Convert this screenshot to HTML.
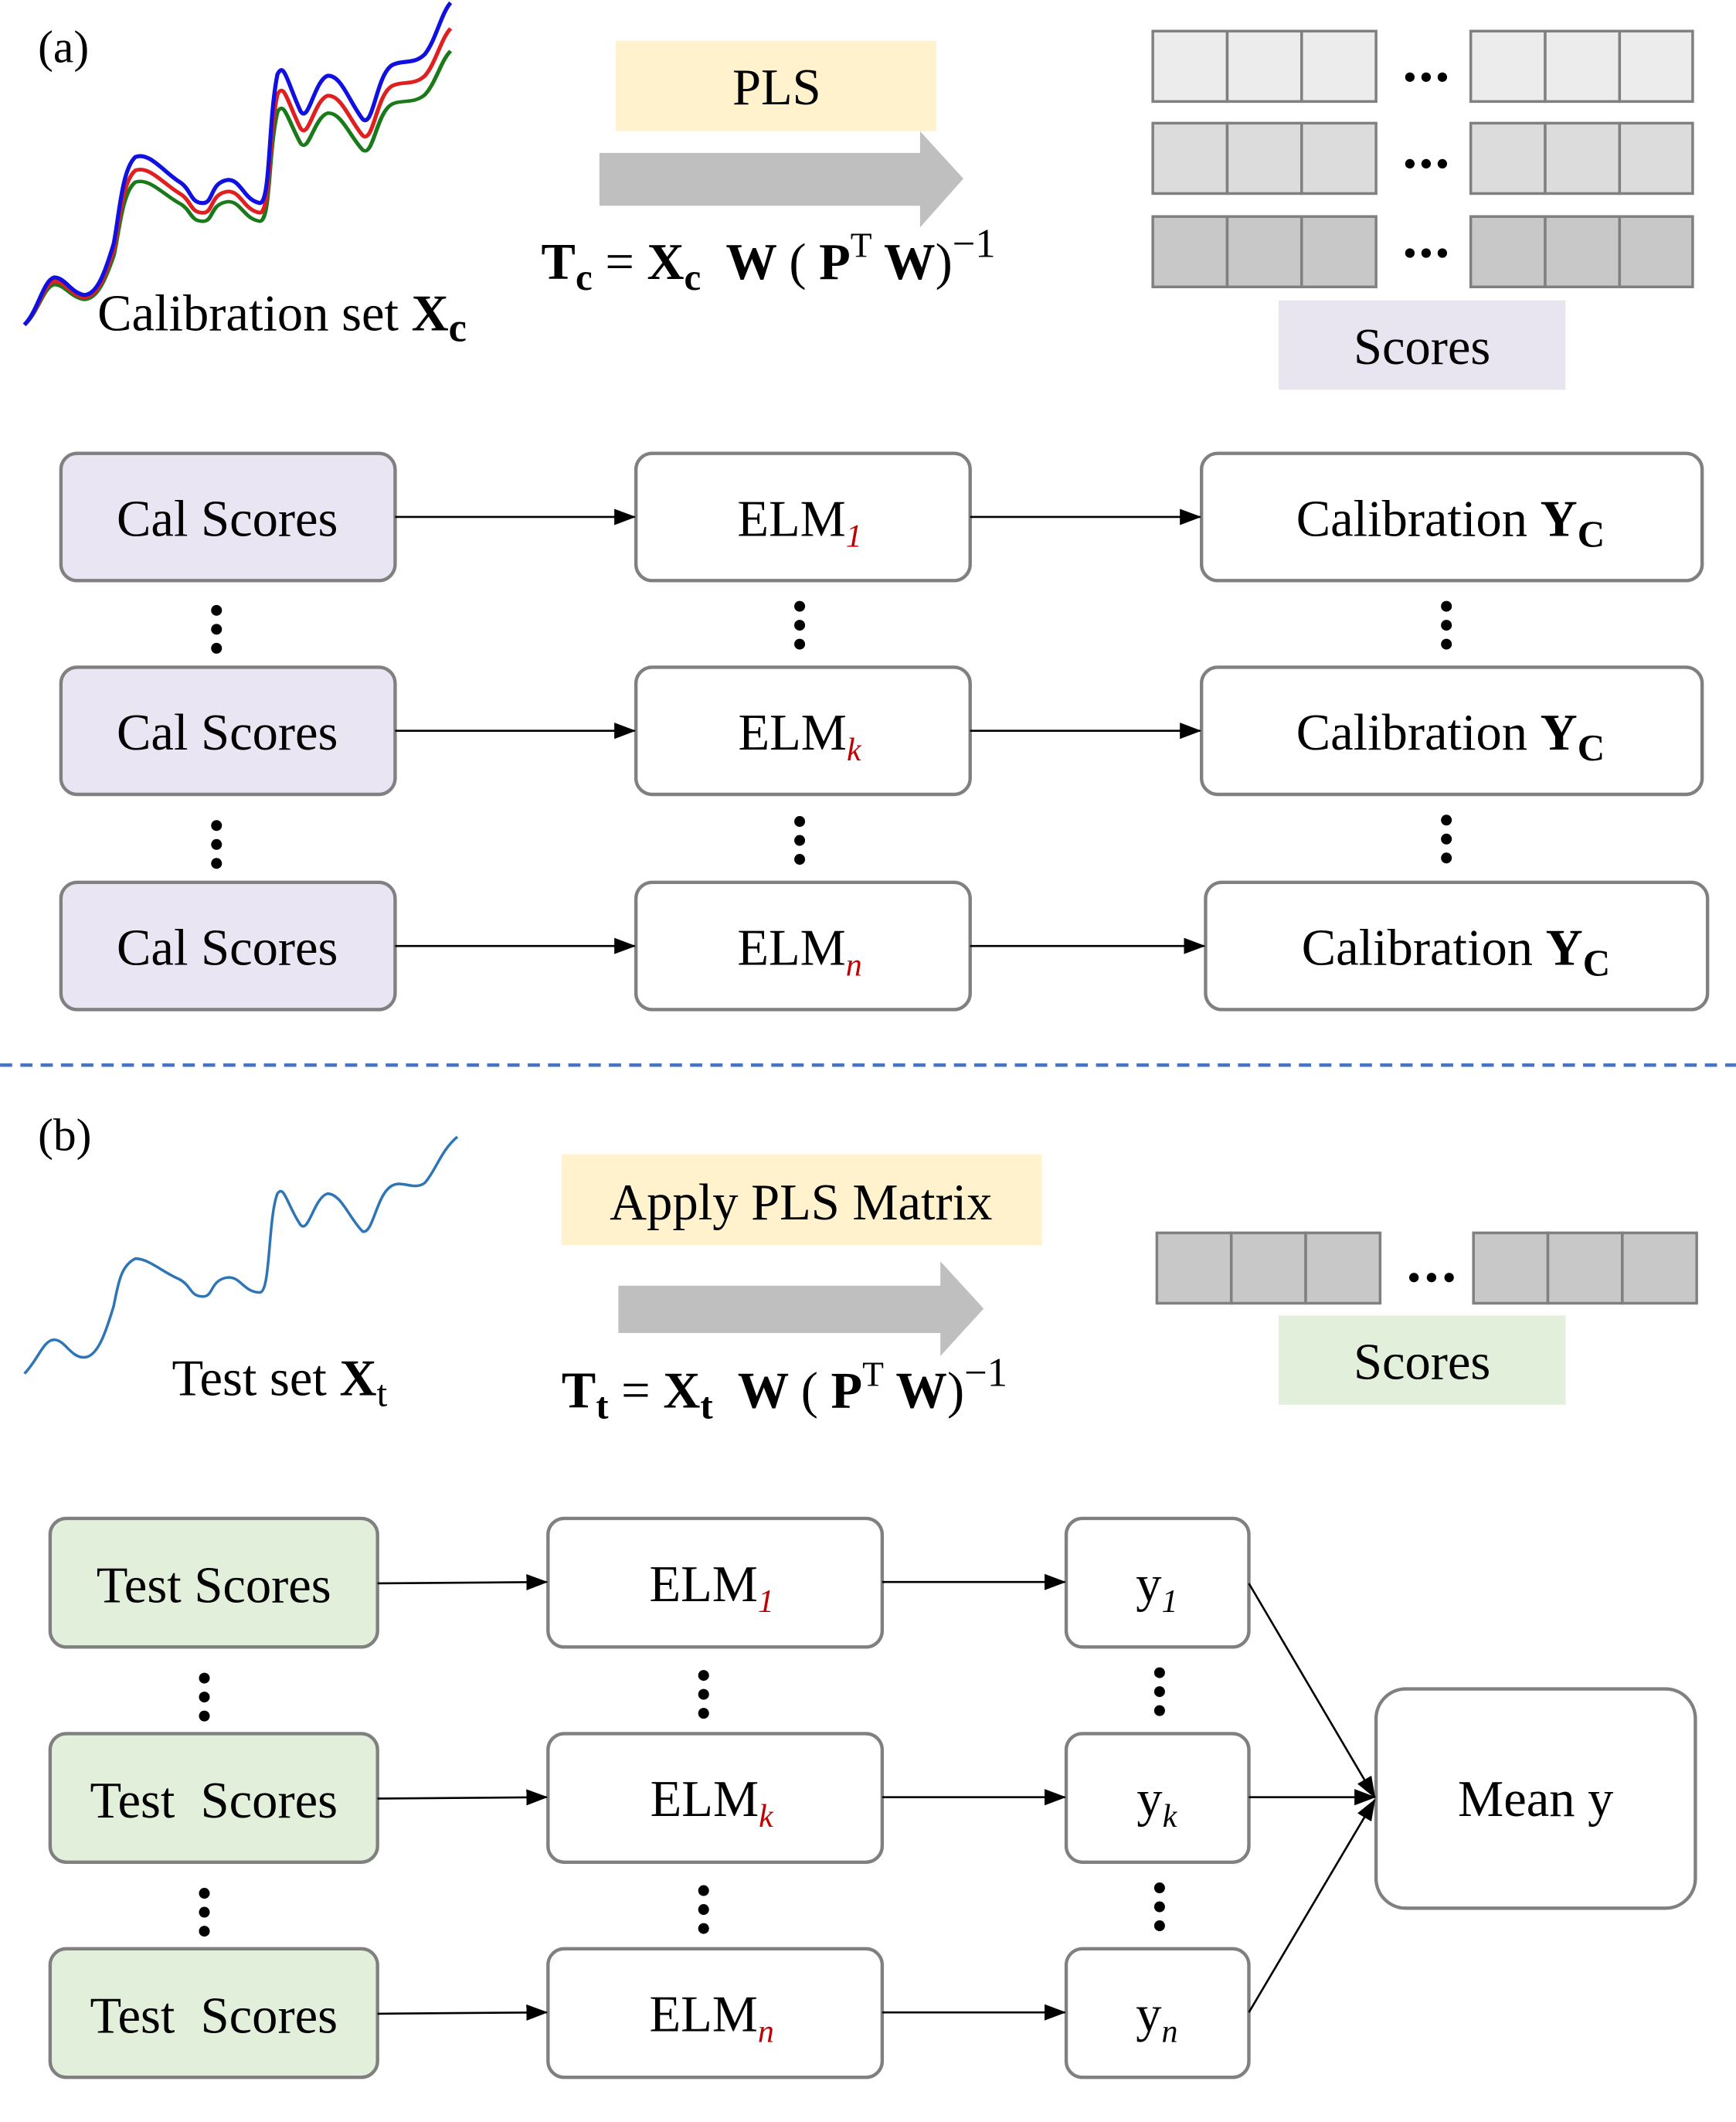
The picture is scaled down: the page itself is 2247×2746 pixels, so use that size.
<!DOCTYPE html>
<html><head><meta charset="utf-8"><style>
html,body{margin:0;padding:0;background:#fff}
svg{display:block}
text{font-family:"Liberation Serif",serif;fill:#000}
</style></head><body>
<svg width="2247" height="2746" viewBox="0 0 1283 1568" xmlns="http://www.w3.org/2000/svg">
<defs>
<marker id="ah" markerWidth="16" markerHeight="14" refX="15" refY="6" orient="auto" markerUnits="userSpaceOnUse" viewBox="0 0 16 12">
<path d="M0,0 L16,6 L0,12 z" fill="#000"/></marker>
<path id="spec" d="M18,240 C28,230 32,207 40,205 C48,205 52,216 62,218 C72,218 78,200 84,180 C88,160 90,125 100,116 C110,112 120,126 132,134 C142,140 140,150 150,150 C158,150 155,135 168,133 C178,132 180,148 192,150 C200,150 198,90 205,55 C210,45 212,60 222,82 C228,92 232,60 242,56 C252,55 258,75 268,88 C276,95 278,55 290,48 C298,44 306,48 314,40 C322,30 326,10 333,2" fill="none"/>
</defs>

<text x="28" y="46" font-size="34">(a)</text>
<g stroke-width="3">
<use href="#spec" stroke="#1a7a1a" transform="translate(0,240) scale(1,0.85) translate(0,-240)"/>
<use href="#spec" stroke="#e02020" transform="translate(0,240) scale(1,0.92) translate(0,-240)"/>
<use href="#spec" stroke="#1010e0"/>
</g>
<text x="72" y="244" font-size="38">Calibration set <tspan font-weight="bold">X</tspan><tspan font-size="30" dy="8" font-weight="bold">c</tspan></text>

<rect x="455" y="30" width="237" height="67" fill="#fff2cc"/>
<text x="574" y="77" font-size="38" text-anchor="middle">PLS</text>
<path d="M443,113 H680 V97 L712,132 L680,168 V152 H443 z" fill="#bfbfbf"/>
<text x="400" y="206" font-size="38" font-weight="bold" xml:space="preserve">T<tspan font-size="28" dy="8">c</tspan><tspan dy="-8" font-weight="normal"> = </tspan>X<tspan font-size="28" dy="8">c</tspan><tspan dy="-8">  W </tspan><tspan font-weight="normal">( </tspan>P<tspan font-size="26" dy="-16" font-weight="normal">T</tspan><tspan dy="16"> W</tspan><tspan font-weight="normal">)</tspan><tspan font-size="30" dy="-16" font-weight="normal">−1</tspan></text>

<g stroke="#808080" stroke-width="2">
<g fill="#ececec"><rect x="852" y="23" width="55" height="52"/><rect x="907" y="23" width="55" height="52"/><rect x="962" y="23" width="55" height="52"/><rect x="1087" y="23" width="55" height="52"/><rect x="1142" y="23" width="55" height="52"/><rect x="1197" y="23" width="54" height="52"/></g>
<g fill="#dcdcdc"><rect x="852" y="91" width="55" height="52"/><rect x="907" y="91" width="55" height="52"/><rect x="962" y="91" width="55" height="52"/><rect x="1087" y="91" width="55" height="52"/><rect x="1142" y="91" width="55" height="52"/><rect x="1197" y="91" width="54" height="52"/></g>
<g fill="#c8c8c8"><rect x="852" y="160" width="55" height="52"/><rect x="907" y="160" width="55" height="52"/><rect x="962" y="160" width="55" height="52"/><rect x="1087" y="160" width="55" height="52"/><rect x="1142" y="160" width="55" height="52"/><rect x="1197" y="160" width="54" height="52"/></g>
</g>
<g fill="#000"><circle cx="1042" cy="57" r="3.5"/><circle cx="1054" cy="57" r="3.5"/><circle cx="1066" cy="57" r="3.5"/>
<circle cx="1042" cy="121" r="3.5"/><circle cx="1054" cy="121" r="3.5"/><circle cx="1066" cy="121" r="3.5"/>
<circle cx="1042" cy="187" r="3.5"/><circle cx="1054" cy="187" r="3.5"/><circle cx="1066" cy="187" r="3.5"/></g>
<rect x="945" y="222" width="212" height="66" fill="#e8e4f0"/>
<text x="1051" y="269" font-size="38" text-anchor="middle">Scores</text>

<g stroke="#808080" stroke-width="2.5">
<rect x="45" y="335" width="247" height="94" rx="12" fill="#e9e5f3"/>
<rect x="45" y="493" width="247" height="94" rx="12" fill="#e9e5f3"/>
<rect x="45" y="652" width="247" height="94" rx="12" fill="#e9e5f3"/>
<rect x="470" y="335" width="247" height="94" rx="12" fill="#fff"/>
<rect x="470" y="493" width="247" height="94" rx="12" fill="#fff"/>
<rect x="470" y="652" width="247" height="94" rx="12" fill="#fff"/>
<rect x="888" y="335" width="370" height="94" rx="12" fill="#fff"/>
<rect x="888" y="493" width="370" height="94" rx="12" fill="#fff"/>
<rect x="891" y="652" width="371" height="94" rx="12" fill="#fff"/>
</g>
<g stroke="#000" stroke-width="1.5" marker-end="url(#ah)">
<line x1="292" y1="382" x2="469" y2="382"/><line x1="292" y1="540" x2="469" y2="540"/><line x1="292" y1="699" x2="469" y2="699"/>
<line x1="717" y1="382" x2="887" y2="382"/><line x1="717" y1="540" x2="887" y2="540"/><line x1="717" y1="699" x2="890" y2="699"/>
</g>
<g font-size="38" text-anchor="middle">
<text x="168" y="396">Cal Scores</text><text x="168" y="554">Cal Scores</text><text x="168" y="713">Cal Scores</text>
<text x="591" y="396">ELM<tspan font-size="24" fill="#c00000" font-style="italic" dy="8">1</tspan></text>
<text x="591" y="554">ELM<tspan font-size="24" fill="#c00000" font-style="italic" dy="8">k</tspan></text>
<text x="591" y="713">ELM<tspan font-size="24" fill="#c00000" font-style="italic" dy="8">n</tspan></text>
<text x="1072" y="396">Calibration <tspan font-weight="bold">Y</tspan><tspan font-weight="bold" font-size="28" dy="8">C</tspan></text>
<text x="1072" y="554">Calibration <tspan font-weight="bold">Y</tspan><tspan font-weight="bold" font-size="28" dy="8">C</tspan></text>
<text x="1076" y="713">Calibration <tspan font-weight="bold">Y</tspan><tspan font-weight="bold" font-size="28" dy="8">C</tspan></text>
</g>
<g fill="#000">
<circle cx="160" cy="451" r="4"/><circle cx="160" cy="465" r="4"/><circle cx="160" cy="479" r="4"/>
<circle cx="160" cy="610" r="4"/><circle cx="160" cy="624" r="4"/><circle cx="160" cy="638" r="4"/>
<circle cx="591" cy="448" r="4"/><circle cx="591" cy="462" r="4"/><circle cx="591" cy="476" r="4"/>
<circle cx="591" cy="607" r="4"/><circle cx="591" cy="621" r="4"/><circle cx="591" cy="635" r="4"/>
<circle cx="1069" cy="448" r="4"/><circle cx="1069" cy="462" r="4"/><circle cx="1069" cy="476" r="4"/>
<circle cx="1069" cy="606" r="4"/><circle cx="1069" cy="620" r="4"/><circle cx="1069" cy="634" r="4"/>
</g>

<line x1="0" y1="787" x2="1283" y2="787" stroke="#4472c4" stroke-width="2.5" stroke-dasharray="9,6"/>

<text x="28" y="850" font-size="34">(b)</text>
<path d="M18,1015 C28,1005 32,990 40,990 C48,990 52,1003 62,1003 C72,1003 78,985 84,965 C88,945 90,935 100,930 C110,930 120,940 132,945 C142,950 140,958 150,958 C158,958 155,946 168,944 C178,943 180,955 192,955 C200,955 198,900 205,882 C210,875 212,890 222,905 C228,912 232,885 242,882 C252,882 258,900 268,910 C276,912 278,882 290,876 C298,872 306,880 314,874 C322,865 326,850 338,840" fill="none" stroke="#2e75b6" stroke-width="2"/>
<text x="127" y="1031" font-size="38">Test set <tspan font-weight="bold">X</tspan><tspan font-size="28" dy="8">t</tspan></text>

<rect x="415" y="853" width="355" height="67" fill="#fff2cc"/>
<text x="592" y="901" font-size="38" text-anchor="middle">Apply PLS Matrix</text>
<path d="M457,950 H695 V932 L727,967 L695,1002 V985 H457 z" fill="#bfbfbf"/>
<text x="415" y="1040" font-size="38" font-weight="bold" xml:space="preserve">T<tspan font-size="28" dy="8">t</tspan><tspan dy="-8" font-weight="normal"> = </tspan>X<tspan font-size="28" dy="8">t</tspan><tspan dy="-8">  W </tspan><tspan font-weight="normal">( </tspan>P<tspan font-size="26" dy="-16" font-weight="normal">T</tspan><tspan dy="16"> W</tspan><tspan font-weight="normal">)</tspan><tspan font-size="30" dy="-16" font-weight="normal">−1</tspan></text>

<g stroke="#808080" stroke-width="2" fill="#c8c8c8">
<rect x="855" y="911" width="55" height="52"/><rect x="910" y="911" width="55" height="52"/><rect x="965" y="911" width="55" height="52"/>
<rect x="1089" y="911" width="55" height="52"/><rect x="1144" y="911" width="55" height="52"/><rect x="1199" y="911" width="55" height="52"/>
</g>
<g fill="#000"><circle cx="1045" cy="944" r="3.5"/><circle cx="1058" cy="944" r="3.5"/><circle cx="1071" cy="944" r="3.5"/></g>
<rect x="945" y="972" width="212" height="66" fill="#e2efda"/>
<text x="1051" y="1019" font-size="38" text-anchor="middle">Scores</text>

<g stroke="#808080" stroke-width="2.5">
<rect x="37" y="1122" width="242" height="95" rx="12" fill="#e2efda"/>
<rect x="37" y="1281" width="242" height="95" rx="12" fill="#e2efda"/>
<rect x="37" y="1440" width="242" height="95" rx="12" fill="#e2efda"/>
<rect x="405" y="1122" width="247" height="95" rx="12" fill="#fff"/>
<rect x="405" y="1281" width="247" height="95" rx="12" fill="#fff"/>
<rect x="405" y="1440" width="247" height="95" rx="12" fill="#fff"/>
<rect x="788" y="1122" width="135" height="95" rx="12" fill="#fff"/>
<rect x="788" y="1281" width="135" height="95" rx="12" fill="#fff"/>
<rect x="788" y="1440" width="135" height="95" rx="12" fill="#fff"/>
<rect x="1017" y="1248" width="236" height="162" rx="22" fill="#fff"/>
</g>
<g stroke="#000" stroke-width="1.5" marker-end="url(#ah)">
<line x1="279" y1="1170" x2="404" y2="1169"/><line x1="279" y1="1329" x2="404" y2="1328"/><line x1="279" y1="1488" x2="404" y2="1487"/>
<line x1="652" y1="1169" x2="787" y2="1169"/><line x1="652" y1="1328" x2="787" y2="1328"/><line x1="652" y1="1487" x2="787" y2="1487"/>
<line x1="923" y1="1170" x2="1016" y2="1328"/><line x1="923" y1="1328" x2="1016" y2="1328"/><line x1="923" y1="1487" x2="1016" y2="1330"/>
</g>
<g font-size="38" text-anchor="middle">
<text x="158" y="1184">Test Scores</text><text x="158" y="1343">Test&#160; Scores</text><text x="158" y="1502">Test&#160; Scores</text>
<text x="526" y="1183">ELM<tspan font-size="24" fill="#c00000" font-style="italic" dy="8">1</tspan></text>
<text x="526" y="1342">ELM<tspan font-size="24" fill="#c00000" font-style="italic" dy="8">k</tspan></text>
<text x="526" y="1501">ELM<tspan font-size="24" fill="#c00000" font-style="italic" dy="8">n</tspan></text>
<text x="855" y="1183">y<tspan font-size="24" font-style="italic" dy="8">1</tspan></text>
<text x="855" y="1342">y<tspan font-size="24" font-style="italic" dy="8">k</tspan></text>
<text x="855" y="1501">y<tspan font-size="24" font-style="italic" dy="8">n</tspan></text>
<text x="1135" y="1342">Mean y</text>
</g>
<g fill="#000">
<circle cx="151" cy="1240" r="4"/><circle cx="151" cy="1254" r="4"/><circle cx="151" cy="1268" r="4"/>
<circle cx="151" cy="1399" r="4"/><circle cx="151" cy="1413" r="4"/><circle cx="151" cy="1427" r="4"/>
<circle cx="520" cy="1238" r="4"/><circle cx="520" cy="1252" r="4"/><circle cx="520" cy="1266" r="4"/>
<circle cx="520" cy="1397" r="4"/><circle cx="520" cy="1411" r="4"/><circle cx="520" cy="1425" r="4"/>
<circle cx="857" cy="1236" r="4"/><circle cx="857" cy="1250" r="4"/><circle cx="857" cy="1264" r="4"/>
<circle cx="857" cy="1395" r="4"/><circle cx="857" cy="1409" r="4"/><circle cx="857" cy="1423" r="4"/>
</g>
</svg>
</body></html>
